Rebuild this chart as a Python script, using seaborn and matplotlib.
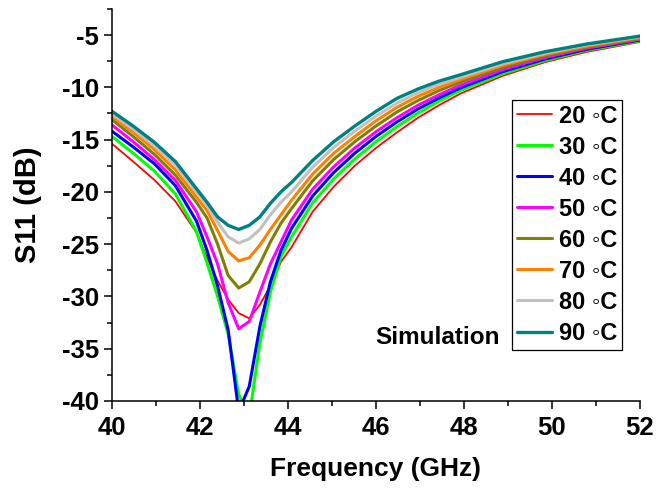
import matplotlib
matplotlib.use('Agg')
import matplotlib.pyplot as plt
import seaborn as sns
import numpy as np
from matplotlib.ticker import MultipleLocator

# frequency grid (GHz), finer around the resonance
freq = [40, 40.48, 40.96, 41.44, 41.92, 42.16, 42.4, 42.64, 42.88, 43.12,
        43.36, 43.6, 43.84, 44.08, 44.56, 45.04, 45.52, 46.0, 46.48, 46.96,
        47.44, 47.92, 48.88, 49.84, 50.8, 51.76, 52.0]

# S11 (dB), one list per temperature
s11_20 = [-15.4, -17.1, -18.85, -20.9, -23.9, -26.3, -28.5, -30.3, -31.6, -32.1,
          -30.8, -29.0, -26.7, -25.3, -21.9, -19.5, -17.5, -15.8, -14.3, -12.9,
          -11.7, -10.6, -8.9, -7.6, -6.6, -5.85, -5.65]
s11_30 = [-14.7, -16.3, -18.0, -20.2, -23.8, -26.8, -30.0, -33.6, -39.4, -41.5,
          -34.5, -29.6, -26.2, -24.3, -21.05, -18.75, -16.85, -15.2, -13.75, -12.45,
          -11.3, -10.3, -8.7, -7.45, -6.45, -5.75, -5.55]
s11_40 = [-14.2, -15.7, -17.3, -19.4, -22.8, -25.6, -29.0, -33.2, -41.0, -38.6,
          -32.9, -28.6, -25.6, -23.5, -20.4, -18.15, -16.3, -14.7, -13.3, -12.05,
          -11.0, -10.05, -8.5, -7.3, -6.35, -5.65, -5.47]
s11_50 = [-13.6, -15.2, -16.9, -18.9, -21.9, -24.3, -26.9, -30.6, -33.1, -32.4,
          -29.6, -26.9, -24.8, -22.7, -19.75, -17.6, -15.8, -14.25, -12.9, -11.7,
          -10.7, -9.8, -8.3, -7.15, -6.25, -5.58, -5.4]
s11_60 = [-13.1, -14.7, -16.4, -18.4, -21.0, -22.5, -25.0, -28.0, -29.2, -28.6,
          -26.9, -24.8, -23.0, -21.6, -18.95, -16.9, -15.2, -13.7, -12.35, -11.25,
          -10.3, -9.5, -8.1, -7.0, -6.15, -5.5, -5.33]
s11_70 = [-12.8, -14.3, -15.95, -17.9, -20.5, -21.8, -23.7, -25.7, -26.6, -26.3,
          -25.1, -23.6, -22.2, -20.8, -18.3, -16.3, -14.7, -13.2, -11.9, -10.85,
          -10.0, -9.25, -7.9, -6.85, -6.05, -5.4, -5.25]
s11_80 = [-12.55, -14.0, -15.6, -17.45, -20.0, -21.3, -22.9, -24.3, -24.9, -24.5,
          -23.6, -22.2, -21.0, -20.0, -17.65, -15.75, -14.2, -12.75, -11.5, -10.5,
          -9.7, -9.05, -7.75, -6.75, -5.95, -5.33, -5.17]
s11_90 = [-12.3, -13.7, -15.25, -17.1, -19.7, -21.0, -22.4, -23.2, -23.6, -23.2,
          -22.4, -21.1, -20.0, -19.1, -17.0, -15.2, -13.7, -12.3, -11.05, -10.15,
          -9.4, -8.8, -7.55, -6.6, -5.85, -5.25, -5.1]

labels = ['20 \u25e6C', '30 \u25e6C', '40 \u25e6C', '50 \u25e6C',
          '60 \u25e6C', '70 \u25e6C', '80 \u25e6C', '90 \u25e6C']
series = [s11_20, s11_30, s11_40, s11_50, s11_60, s11_70, s11_80, s11_90]
colors = ['#FF0000', '#00FF00', '#0000FF', '#FF00FF',
          '#808000', '#FF8000', '#C0C0C0', '#008080']
widths = [1.3, 2.2, 2.2, 2.2, 2.2, 2.2, 2.2, 2.4]

sns.set_style('ticks')
plt.rcParams['font.family'] = ['Liberation Sans', 'DejaVu Sans']
plt.rcParams['font.weight'] = 'bold'
plt.rcParams['axes.labelweight'] = 'bold'
plt.rcParams['axes.unicode_minus'] = False
for key in ['text.color', 'axes.labelcolor', 'xtick.color', 'ytick.color',
            'axes.edgecolor']:
    plt.rcParams[key] = 'black'

fig = plt.figure(figsize=(6.57, 4.95), dpi=100)
ax = fig.add_axes([0.1705, 0.19, 0.8035, 0.792])

for vals, lab, col, lw in zip(series, labels, colors, widths):
    sns.lineplot(x=freq, y=vals, color=col, linewidth=lw, label=lab, ax=ax)

ax.set_xlim(40, 52)
ax.set_ylim(-40, -2.5)
ax.xaxis.set_major_locator(MultipleLocator(2))
ax.xaxis.set_minor_locator(MultipleLocator(1))
ax.yaxis.set_major_locator(MultipleLocator(5))
ax.yaxis.set_minor_locator(MultipleLocator(2.5))
ax.tick_params(axis='x', which='major', pad=5)
ax.tick_params(which='major', direction='out', length=6, width=1.1,
               labelsize=18.5, color='black', labelcolor='black')
ax.tick_params(which='minor', direction='out', length=3.5, width=1.1, color='black')
for lbl in ax.get_xticklabels() + ax.get_yticklabels():
    lbl.set_fontweight('bold')

sns.despine(ax=ax)
for sp in ['left', 'bottom']:
    ax.spines[sp].set_linewidth(1.1)
    ax.spines[sp].set_color('black')

ax.set_xlabel('Frequency (GHz)', fontsize=19, fontweight='bold', labelpad=12)
ax.set_ylabel('S11 (dB)', fontsize=21, fontweight='bold', labelpad=14)

leg = ax.legend(loc='upper left', bbox_to_anchor=(0.758, 0.768),
                fontsize=17, frameon=True, fancybox=False, framealpha=1,
                edgecolor='black', handlelength=1.5, handletextpad=0.3,
                labelspacing=0.34, borderpad=0.2, borderaxespad=0)
leg.get_frame().set_linewidth(0.9)
for t in leg.get_texts():
    t.set_fontweight('bold')
    t.set_color('black')

ax.text(0.735, 0.163, 'Simulation', transform=ax.transAxes, ha='right',
        va='center', fontsize=17.5, fontweight='bold', color='black')

fig.savefig('out.png', dpi=100)
